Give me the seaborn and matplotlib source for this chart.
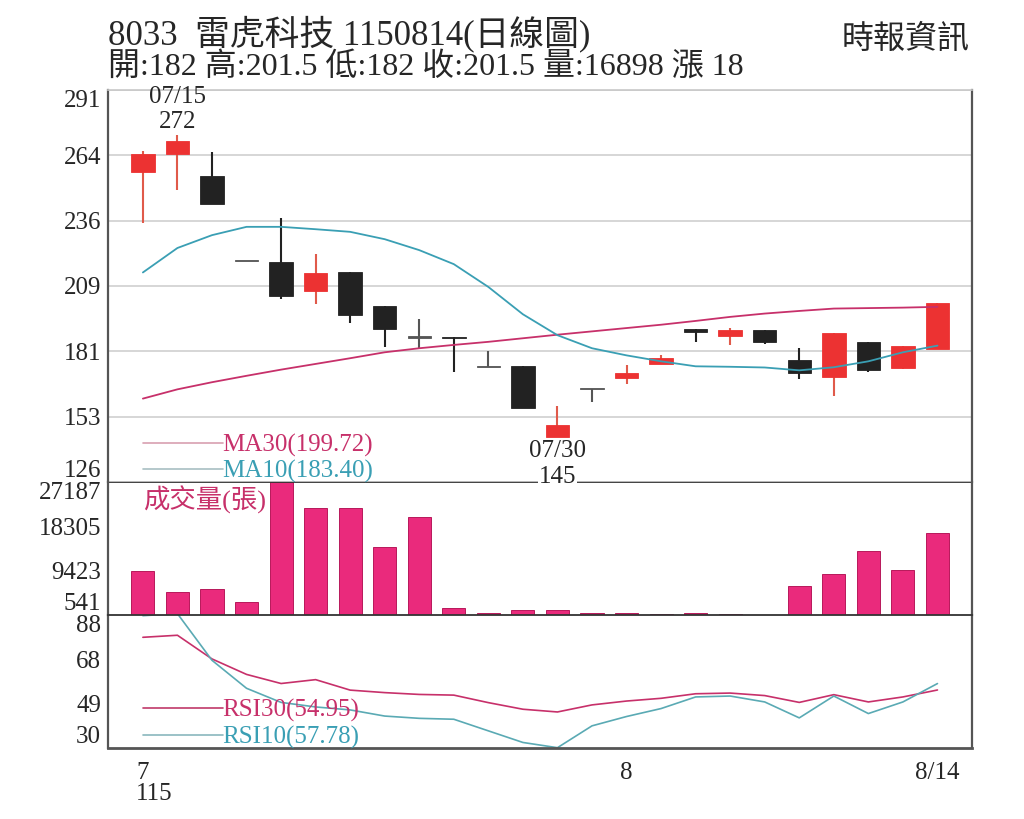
import numpy as np
import pandas as pd
import seaborn as sns
import matplotlib
matplotlib.use('Agg')
import matplotlib.pyplot as plt

# dados (24 pregoes, 7/14 a 8/14)
dates = ['7/14', '7/15', '7/16', '7/17', '7/20', '7/21', '7/22', '7/23', '7/24',
         '7/27', '7/28', '7/29', '7/30', '7/31', '8/3', '8/4', '8/5', '8/6', '8/7',
         '8/10', '8/11', '8/12', '8/13', '8/14']
opens = [256.3, 264.0, 255.0, 219.0, 218.5, 206.4, 214.4, 200.0, 186.8, 187.0, 174.4, 174.7,
         145.0, 165.0, 169.7, 175.6, 190.2, 187.5, 190.0, 177.2, 170.0, 184.9, 174.0, 182.0]
closes = [264.0, 269.5, 243.0, 219.0, 204.3, 214.0, 196.5, 190.6, 186.8, 186.5, 174.4, 157.0,
          150.0, 165.0, 172.0, 178.4, 189.0, 189.9, 184.8, 172.0, 188.9, 173.0, 183.4, 201.5]
highs = [265.5, 272.0, 265.0, 219.0, 237.0, 222.0, 214.4, 200.0, 194.4, 187.0, 181.2, 174.7,
         158.0, 165.0, 175.4, 179.6, 190.2, 190.8, 190.0, 182.4, 188.9, 184.9, 183.4, 201.5]
lows = [235.0, 249.0, 243.0, 219.0, 203.0, 201.0, 193.0, 183.0, 182.2, 172.3, 174.4, 157.0,
        145.0, 159.7, 167.4, 175.6, 185.0, 183.6, 184.0, 169.5, 162.2, 172.5, 173.5, 182.0]
volume = [9420, 5210, 5750, 3090, 27187, 21980, 21900, 14230, 20120, 2000, 940, 1600,
          1480, 940, 940, 740, 1000, 740, 541, 6350, 8760, 13360, 9500, 16898]
ma10 = [214.2, 224.5, 229.9, 233.4, 233.4, 232.4, 231.3, 228.2, 223.6, 217.7, 208.1, 196.6,
        187.8, 182.3, 179.3, 176.8, 174.7, 174.5, 174.2, 173.0, 174.3, 176.8, 180.6, 183.4]
ma30 = [161.1, 165.0, 168.0, 170.7, 173.3, 175.7, 178.1, 180.6, 182.3, 183.7, 185.0, 186.5,
        188.0, 189.4, 190.8, 192.2, 193.8, 195.5, 196.9, 198.0, 199.0, 199.2, 199.4, 199.72]
rsi30 = [78.1, 79.0, 68.6, 61.8, 57.8, 59.5, 54.9, 53.8, 53.0, 52.7, 49.4, 46.5,
         45.3, 48.4, 50.1, 51.3, 53.3, 53.6, 52.5, 49.5, 52.9, 49.7, 51.9, 54.95]
rsi10 = [87.6, 88.5, 68.0, 55.7, 49.5, 47.5, 46.2, 43.5, 42.5, 42.1, 37.0, 31.9,
         29.6, 39.2, 43.3, 46.8, 51.9, 52.3, 49.7, 42.7, 52.3, 44.6, 49.7, 57.78]

price_ticks = [126, 153.5, 181, 208.5, 236, 263.5, 291]
price_labels = ['126', '153', '181', '209', '236', '264', '291']
vol_ticks = [541, 9423, 18305, 27187]
vol_labels = ['541', '9423', '18305', '27187']
rsi_ticks = [29.6, 49.03, 68.47, 87.9]
rsi_labels = ['30', '49', '68', '88']
xtick_pos = [0, 14, 23]
xtick_labels = ['7', '8', '8/14']

title1 = '8033  雷虎科技 1150814(日線圖)'
title2 = '開:182 高:201.5 低:182 收:201.5 量:16898 漲 18'
source = '時報資訊'

RED = '#ec3232'
BLACK = '#222222'
PINK = '#ea2a7c'
CRIMSON = '#c7306a'
TEAL = '#3a9fb4'

sns.set_style('white')
plt.rcParams['font.family'] = ['Liberation Serif', 'Noto Sans CJK TC', 'DejaVu Sans']

df = pd.DataFrame({'i': np.arange(len(dates)), 'open': opens, 'close': closes,
                   'high': highs, 'low': lows, 'vol': volume,
                   'ma10': ma10, 'ma30': ma30, 'rsi10': rsi10, 'rsi30': rsi30})

fig = plt.figure(figsize=(10.24, 8.19), dpi=100)
L, W = 108 / 1024, 864 / 1024
def fy(px):
    return 1 - px / 819
ax = fig.add_axes([L, fy(482), W, fy(90) - fy(482)])
axv = fig.add_axes([L, fy(615), W, fy(482) - fy(615)])
axr = fig.add_axes([L, fy(747.7), W, fy(615) - fy(747.7)])
ax.set_zorder(3)
ax.patch.set_visible(False)

xlim = (-1.01, 24.0)

# candles
cores = []
for o, c in zip(df['open'], df['close']):
    if c > o:
        cores.append(RED)
    elif c < o:
        cores.append(BLACK)
    else:
        cores.append('#555555')
wick_cores = ['#e05a4a' if c == RED else c for c in cores]
ax.vlines(df['i'], df['low'], df['high'], colors=wick_cores, linewidth=1.5, zorder=2)
body_h = np.maximum(np.abs(df['close'] - df['open']), 0.5)
body_b = np.minimum(df['open'], df['close'])
ax.bar(df['i'], body_h, bottom=body_b, width=0.68, color=cores, edgecolor=cores,
       linewidth=0.6, zorder=3)

sns.lineplot(data=df, x='i', y='ma30', ax=ax, color=CRIMSON, linewidth=1.3, zorder=4,
             label='MA30(199.72)')
sns.lineplot(data=df, x='i', y='ma10', ax=ax, color=TEAL, linewidth=1.3, zorder=4,
             label='MA10(183.40)')
ax.set_ylim(126, 291)
ax.set_xlim(*xlim)
ax.set_yticks(price_ticks)
ax.set_yticklabels(price_labels)
ax.yaxis.grid(True, color='#cfcfcf', linewidth=1.2)
ax.set_xticks([])
ax.set_xlabel('')
ax.set_ylabel('')

leg = ax.legend(loc='upper left', bbox_to_anchor=(0.04, 0.122), frameon=False, fontsize=18,
                handlelength=3.2, handletextpad=0.0, labelspacing=0.11, borderpad=0,
                borderaxespad=0)
for t, c in zip(leg.get_texts(), [CRIMSON, TEAL]):
    t.set_color(c)
for ln, c in zip(leg.get_lines(), ['#d8a0b0', '#a8bfc2']):
    ln.set_color(c)
    ln.set_linewidth(1.2)

# anotacoes de maxima e minima
imax = int(np.argmax(highs))
imin = int(np.argmin(lows))
ax.annotate(f'{highs[imax]:g}', xy=(imax, highs[imax]), xytext=(0, 13),
            textcoords='offset pixels', ha='center', va='center', fontsize=18)
ax.annotate('07/15', xy=(imax, highs[imax]), xytext=(0, 38),
            textcoords='offset pixels', ha='center', va='center', fontsize=18)
ax.annotate('07/30', xy=(imin, lows[imin]), xytext=(0, -14),
            textcoords='offset pixels', ha='center', va='center', fontsize=18)
ax.annotate(f'{lows[imin]:g}', xy=(imin, lows[imin]), xytext=(0, -40),
            textcoords='offset pixels', ha='center', va='center', fontsize=18,
            bbox=dict(facecolor='white', edgecolor='none', pad=0.5), zorder=10,
            annotation_clip=False)

# volume
sns.barplot(data=df, x='i', y='vol', ax=axv, color=PINK, saturation=1, width=0.67,
            edgecolor='#b8195a', linewidth=0.7)
axv.set_ylim(541, 27187)
axv.set_xlim(*xlim)
axv.set_yticks(vol_ticks)
axv.set_yticklabels(vol_labels)
axv.set_xticks([])
axv.set_xlabel('')
axv.set_ylabel('')
axv.text(0.04, 0.865, '成交量(張)', transform=axv.transAxes, color=CRIMSON,
         fontsize=19, va='center', ha='left')

# RSI
sns.lineplot(data=df, x='i', y='rsi30', ax=axr, color=CRIMSON, linewidth=1.2,
             label='RSI30(54.95)')
sns.lineplot(data=df, x='i', y='rsi10', ax=axr, color='#5aaab4', linewidth=1.2,
             label='RSI10(57.78)')
axr.set_ylim(rsi_ticks[0], rsi_ticks[-1])
axr.set_xlim(*xlim)
axr.set_yticks(rsi_ticks)
axr.set_yticklabels(rsi_labels)
axr.set_xticks(df['i'])
axr.set_xticklabels([xtick_labels[xtick_pos.index(i)] if i in xtick_pos else ''
                     for i in df['i']])
axr.set_xlabel('')
axr.set_ylabel('')
axr.annotate('115', xy=(0, 0), xycoords=('data', 'axes fraction'), xytext=(-7, -46),
             textcoords='offset pixels', ha='left', va='center', fontsize=18)
leg2 = axr.legend(loc='upper left', bbox_to_anchor=(0.04, 0.367), frameon=False, fontsize=18,
                  handlelength=3.2, handletextpad=0.0, labelspacing=0.14, borderpad=0,
                  borderaxespad=0)
for t, c in zip(leg2.get_texts(), [CRIMSON, TEAL]):
    t.set_color(c)
for ln, c in zip(leg2.get_lines(), ['#c03a6a', '#8ab8be']):
    ln.set_color(c)
    ln.set_linewidth(1.2)

# eixos e bordas
for a in (ax, axv, axr):
    a.tick_params(axis='y', length=3, width=1, pad=2, labelsize=18, color='#555555')
    for s in ('left', 'right'):
        a.spines[s].set_color('#555555')
        a.spines[s].set_linewidth(1.6)
ax.spines['top'].set_color('#c8c8c8')
ax.spines['top'].set_linewidth(1.2)
ax.spines['bottom'].set_visible(False)
axv.spines['top'].set_color('#333333')
axv.spines['top'].set_linewidth(1.3)
axv.spines['bottom'].set_visible(False)
axr.spines['top'].set_color('#333333')
axr.spines['top'].set_linewidth(1.3)
axr.spines['bottom'].set_color('#555555')
axr.spines['bottom'].set_linewidth(2)
axr.tick_params(axis='x', length=4, width=1, pad=6, labelsize=18, color='#555555')

# rotulos extremos alinhados para dentro do painel
for a in (ax, axv, axr):
    labs = a.get_yticklabels()
    labs[0].set_va('bottom')
    labs[-1].set_va('top')

fig.text(108 / 1024, fy(34), title1, fontsize=25, va='center', ha='left')
fig.text(108 / 1024, fy(68), title2, fontsize=23, va='center', ha='left')
fig.text(970 / 1024, fy(40), source, fontsize=23, va='center', ha='right')

fig.savefig('out.png', dpi=100)
